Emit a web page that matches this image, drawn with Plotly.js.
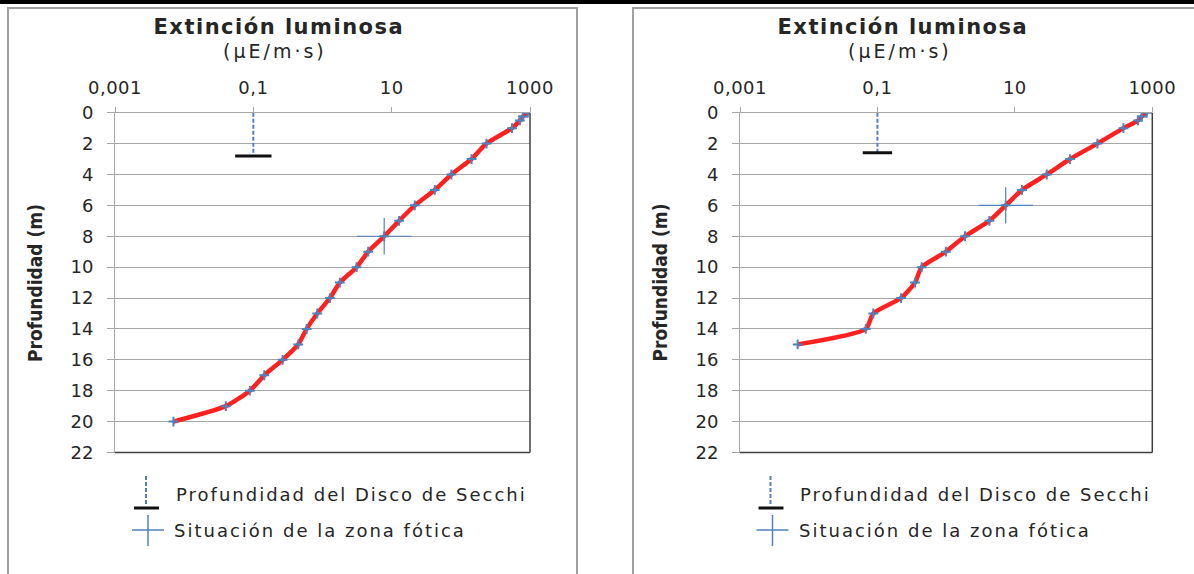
<!DOCTYPE html>
<html>
<head>
<meta charset="utf-8">
<script src="https://cdn.plot.ly/plotly-3.0.1.min.js"></script>
<style>
html,body{margin:0;padding:0;background:#fff;}
#chart{width:1194px;height:574px;}
.annotation[data-index="0"] text, .annotation[data-index="5"] text{letter-spacing:1.5px;}
.annotation[data-index="1"] text, .annotation[data-index="6"] text{letter-spacing:3px;}
.annotation[data-index="3"] text, .annotation[data-index="8"] text,
.annotation[data-index="4"] text, .annotation[data-index="9"] text{letter-spacing:2px;}
.xtick text, .x2tick text{letter-spacing:0.5px;}
</style>
</head>
<body>
<div id="chart"></div>
<script>
// ---------- DATA ----------
var xTickVals = [0.001, 0.1, 10, 1000];
var xTickText = ["0,001", "0,1", "10", "1000"];
var yTickVals = [0, 2, 4, 6, 8, 10, 12, 14, 16, 18, 20, 22];

var leftDepth = [0, 0.25, 0.5, 1, 2, 3, 4, 5, 6, 7, 8, 9, 10, 11, 12, 13, 14, 15, 16, 17, 18, 19, 20];
var leftLight = [929, 787, 713, 550, 235, 143, 73, 42, 21.6, 12.8, 7.8, 4.58, 3.11, 1.78, 1.28, 0.84, 0.59, 0.446, 0.265, 0.144, 0.089, 0.040, 0.0070];
var leftSecchiX = [0.1, 0.1];
var leftSecchiDepth = [0, 2.8];
var leftPhoticX = [7.8];
var leftPhoticDepth = [8];

var rightDepth = [0, 0.25, 0.5, 1, 2, 3, 4, 5, 6, 7, 8, 9, 10, 11, 12, 13, 14, 15];
var rightLight = [830, 700, 620, 380, 159, 63.6, 29.1, 12.7, 7.36, 4.26, 1.88, 0.99, 0.44, 0.352, 0.221, 0.087, 0.0676, 0.0069];
var rightSecchiX = [0.1, 0.1];
var rightSecchiDepth = [0, 2.6];
var rightPhoticX = [7.36];
var rightPhoticDepth = [6];

var titleText = "Extinción luminosa";
var unitText = "(µE/m·s)";
var yTitleText = "Profundidad (m)";
var legendTexts = ["Profundidad del Disco de Secchi", "Situación de la zona fótica"];

// ---------- STYLE ----------
var W = 1194, H = 574;
var BLUE = "#4f81bd", RED = "#ff2020", GRID = "#a6a6a6", DARK = "#404040";
var TICKFONT = {family: "DejaVu Sans, Verdana, sans-serif", size: 18, color: "#262626"};
var TITLEFONT = "DejaVu Sans, Open Sans, sans-serif";
function px(x){return x / W;}
function py(y){return 1 - y / H;}

function photicTrace(xs, ys, xa, ya){
  var f = 2.5; // horizontal arm factor (log space)
  return {
    x: xs, y: ys, xaxis: xa, yaxis: ya, mode: "markers", type: "scatter",
    marker: {size: 1, color: "rgba(0,0,0,0)"},
    error_x: {type: "data", symmetric: false,
      array: xs.map(function(v){return v * (f - 1);}),
      arrayminus: xs.map(function(v){return v * (1 - 1 / f);}),
      width: 0, thickness: 1.2, color: BLUE},
    error_y: {type: "constant", value: 1.18, width: 0, thickness: 1.2, color: BLUE},
    showlegend: false, hoverinfo: "skip"
  };
}
function dataTrace(xs, ys, xa, ya){
  return {
    x: xs, y: ys, xaxis: xa, yaxis: ya, type: "scatter", mode: "lines+markers",
    line: {color: RED, width: 4.5, shape: "spline", smoothing: 0.6},
    marker: {symbol: "cross-thin", size: 7, line: {color: BLUE, width: 2}, color: BLUE},
    showlegend: false
  };
}
function secchiLine(xs, ys, xa, ya){
  return {x: xs, y: ys, xaxis: xa, yaxis: ya, type: "scatter", mode: "lines",
    line: {color: BLUE, width: 2, dash: "4px,2px"}, showlegend: false, hoverinfo: "skip"};
}
function secchiBar(xs, ys, xa, ya, size){
  return {x: [xs[xs.length - 1]], y: [ys[ys.length - 1]], xaxis: xa, yaxis: ya, type: "scatter", mode: "markers",
    marker: {symbol: "line-ew", size: size, line: {color: "#111", width: 3}}, showlegend: false, hoverinfo: "skip"};
}

var traces = [
  secchiLine(leftSecchiX, leftSecchiDepth, "x", "y"),
  secchiBar(leftSecchiX, leftSecchiDepth, "x", "y", 26),
  photicTrace(leftPhoticX, leftPhoticDepth, "x", "y"),
  dataTrace(leftLight, leftDepth, "x", "y"),
  secchiLine(rightSecchiX, rightSecchiDepth, "x2", "y2"),
  secchiBar(rightSecchiX, rightSecchiDepth, "x2", "y2", 21),
  photicTrace(rightPhoticX, rightPhoticDepth, "x2", "y2"),
  dataTrace(rightLight, rightDepth, "x2", "y2")
];

function xAxis(x0, x1, anchor){
  return {type: "log", range: [-3, 3], domain: [px(x0), px(x1)], anchor: anchor, side: "top",
    tickvals: xTickVals, ticktext: xTickText, ticks: "outside", ticklen: 5, tickcolor: GRID,
    ticklabelstandoff: 6, showgrid: false, showline: true, linecolor: GRID, linewidth: 1,
    zeroline: false, tickfont: TICKFONT, fixedrange: true};
}
function yAxis(anchor){
  return {range: [22, 0], domain: [py(452.5), py(112.7)], anchor: anchor,
    tickvals: yTickVals, ticks: "outside", ticklen: 7, tickcolor: GRID, ticklabelstandoff: 10,
    showgrid: true, gridcolor: GRID, gridwidth: 1, showline: true, linecolor: GRID, linewidth: 1,
    zeroline: false, tickfont: TICKFONT, fixedrange: true};
}

var shapes = [];
var annotations = [];
// top black band
shapes.push({type: "rect", xref: "paper", yref: "paper", x0: 0, x1: 1, y0: py(4), y1: py(0), fillcolor: "#000", line: {width: 0}, layer: "above"});
// left panel frame
shapes.push({type: "path", xref: "paper", yref: "paper",
  path: "M " + px(8) + " " + py(580) + " L " + px(8) + " " + py(8) + " L " + px(577) + " " + py(8) + " L " + px(577) + " " + py(580),
  line: {color: "#a0a0a0", width: 2}});
// right panel frame
shapes.push({type: "path", xref: "paper", yref: "paper",
  path: "M " + px(633) + " " + py(580) + " L " + px(633) + " " + py(8) + " L " + px(1200) + " " + py(8),
  line: {color: "#a0a0a0", width: 2}});
// dark right/bottom plot borders
[["x", "y"], ["x2", "y2"]].forEach(function(p){
  shapes.push({type: "line", xref: p[0] + " domain", yref: p[1] + " domain", x0: 1, x1: 1, y0: 0, y1: 1, line: {color: DARK, width: 1.5}, layer: "above"});
  shapes.push({type: "line", xref: p[0] + " domain", yref: p[1] + " domain", x0: 0, x1: 1, y0: 0, y1: 0, line: {color: DARK, width: 1.5}, layer: "above"});
});

[0, 624.5].forEach(function(off){
  // titles
  annotations.push({xref: "paper", yref: "paper", x: px(278.5 + off), y: py(27), text: "<b>" + titleText + "</b>",
    showarrow: false, xanchor: "center", yanchor: "middle", font: {family: TITLEFONT, size: 21, color: "#262626"}});
  annotations.push({xref: "paper", yref: "paper", x: px(275 + off), y: py(51), text: unitText,
    showarrow: false, xanchor: "center", yanchor: "middle", font: {family: TITLEFONT, size: 19, color: "#262626"}});
  // y title
  annotations.push({xref: "paper", yref: "paper", x: px(35 + off), y: py(283), text: "<b>" + yTitleText + "</b>", textangle: -90,
    showarrow: false, xanchor: "center", yanchor: "middle",
    font: {family: "DejaVu Sans Condensed, Liberation Sans Narrow, sans-serif", size: 19, color: "#262626"}});
  // legend texts (centered so CSS letter-spacing grows symmetrically)
  annotations.push({xref: "paper", yref: "paper", x: px(351.5 + off), y: py(494), text: legendTexts[0],
    showarrow: false, xanchor: "center", yanchor: "middle", font: {family: TICKFONT.family, size: 18, color: "#262626"}});
  annotations.push({xref: "paper", yref: "paper", x: px(320 + off), y: py(530), text: legendTexts[1],
    showarrow: false, xanchor: "center", yanchor: "middle", font: {family: TICKFONT.family, size: 18, color: "#262626"}});
  // legend icons
  shapes.push({type: "line", xref: "paper", yref: "paper", x0: px(146 + off), x1: px(146 + off), y0: py(476), y1: py(506),
    line: {color: BLUE, width: 2, dash: "4px,2px"}});
  shapes.push({type: "line", xref: "paper", yref: "paper", x0: px(134 + off), x1: px(159 + off), y0: py(508), y1: py(508),
    line: {color: "#111", width: 3}});
  shapes.push({type: "line", xref: "paper", yref: "paper", x0: px(132 + off), x1: px(164 + off), y0: py(530), y1: py(530),
    line: {color: BLUE, width: 1.5}});
  shapes.push({type: "line", xref: "paper", yref: "paper", x0: px(148 + off), x1: px(148 + off), y0: py(515), y1: py(546),
    line: {color: BLUE, width: 1.5}});
});

var layout = {
  width: W, height: H, margin: {l: 0, r: 0, t: 0, b: 0},
  paper_bgcolor: "#fff", plot_bgcolor: "#fff", showlegend: false,
  xaxis: xAxis(115, 530, "y"), yaxis: yAxis("x"),
  xaxis2: xAxis(740, 1152.3, "y2"), yaxis2: yAxis("x2"),
  shapes: shapes, annotations: annotations
};

Plotly.newPlot("chart", traces, layout, {staticPlot: true, displayModeBar: false});
</script>
</body>
</html>
